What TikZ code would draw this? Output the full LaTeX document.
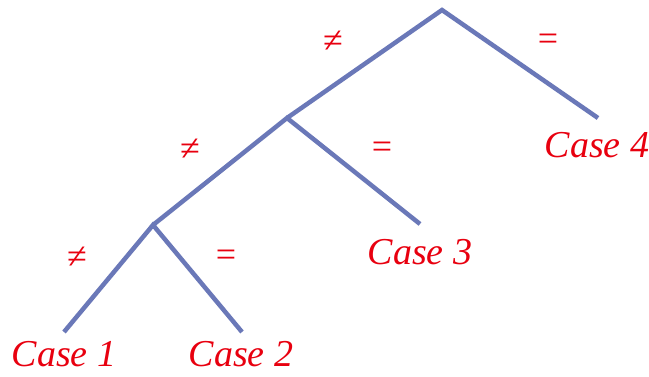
\documentclass[tikz,border=0pt]{standalone}
\usepackage{fontspec}
\setmainfont{Liberation Serif}
\definecolor{edgeblue}{HTML}{6A78B8}
\definecolor{labred}{HTML}{E8000F}
\begin{document}
\begin{tikzpicture}[x=1pt,y=-1pt,
  edge/.style={draw=edgeblue,line width=4.5pt},
  casetext/.style={text=labred,font=\fontsize{38}{44}\selectfont\itshape,anchor=base,inner sep=0pt},
  rel/.style={text=labred,font=\fontsize{36}{40}\selectfont,inner sep=0pt}]
\useasboundingbox (0,0) rectangle (649,376);
\coordinate (r) at (442,10);
\coordinate (a) at (287,118);
\coordinate (b) at (153,225);
\coordinate (l4) at (598,118);
\coordinate (l3) at (420,224);
\coordinate (l1) at (64,332);
\coordinate (l2) at (242,332);
\draw[edge] (a) -- (r) -- (l4);
\draw[edge] (b) -- (a) -- (l3);
\draw[edge] (l1) -- (b) -- (l2);
\node[casetext] (c1) at (64,366) {Case 1};
\node[casetext] (c2) at (241,366) {Case 2};
\node[casetext] (c3) at (420,264) {Case 3};
\node[casetext] (c4) at (597,157) {Case 4};
\node[rel] (n1) at (333,42) {≠};
\node[rel] (e1) at (548,42) {=};
\node[rel] (n2) at (190,150) {≠};
\node[rel] (e2) at (382,150) {=};
\node[rel] (n3) at (77,258) {≠};
\node[rel] (e3) at (226,258) {=};
\end{tikzpicture}
\end{document}
